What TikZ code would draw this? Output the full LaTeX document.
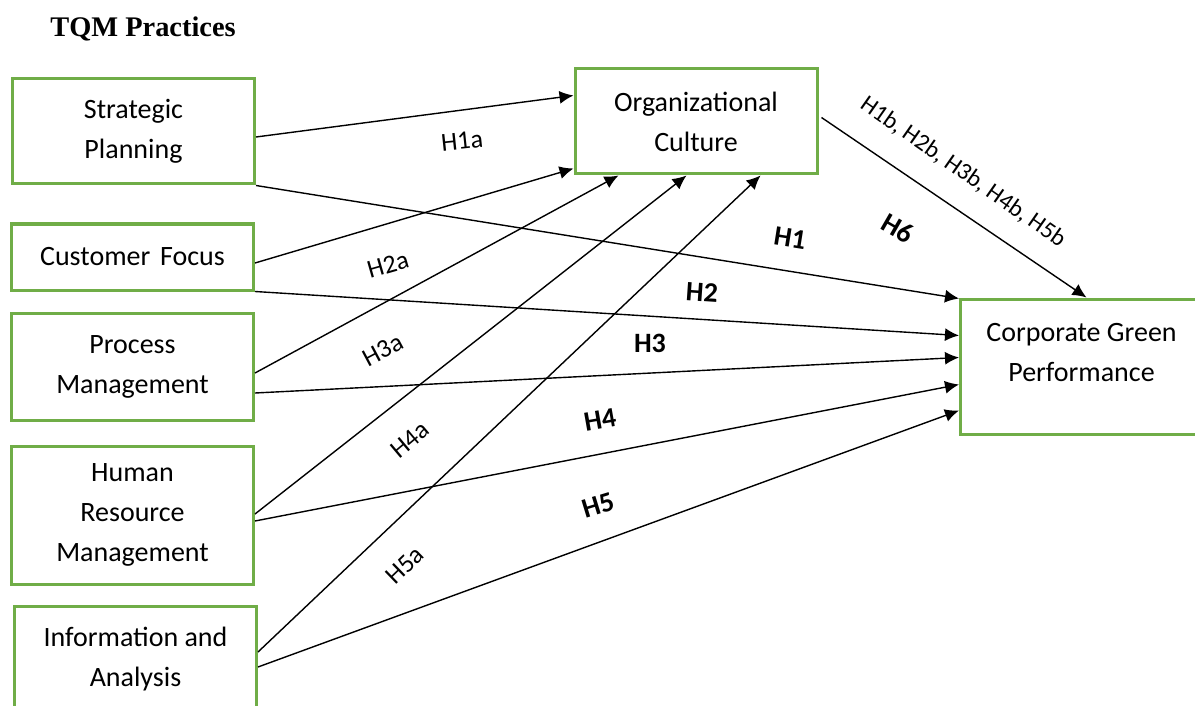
\documentclass[tikz,border=0pt]{standalone}
\usepackage{fontspec}
\setmainfont{Carlito}
\newfontfamily\titlefont{Liberation Serif}
\usetikzlibrary{arrows.meta,calc}
\definecolor{boxgreen}{RGB}{112,173,71}

\tikzset{
box/.style={draw=boxgreen, line width=1.5pt, align=center, inner sep=0pt,
  minimum width=121pt, font=\fontsize{14pt}{20pt}\selectfont},
link/.style={-{Latex[length=7pt,width=6.5pt]}, line width=0.7pt},
hyp/.style={font=\fontsize{13pt}{14pt}\selectfont, inner sep=1pt},
hypbold/.style={font=\fontsize{14pt}{16pt}\selectfont\bfseries, inner sep=1pt}
}

\begin{document}
\begin{tikzpicture}[x=0.5pt, y=-0.5pt]

\useasboundingbox (0,0) rectangle (1195,706);

\node[font={\titlefont\bfseries\fontsize{14.2pt}{16pt}\selectfont}] (title) at (143,29) {TQM Practices};

\node[box, minimum height=52.5pt] (sp) at (133.5,131.5) {Strategic\\Planning};
\node[box, minimum height=33pt] (cf) at (132.5,257) {Customer\hspace{0.35em}Focus};
\node[box, minimum height=53.5pt] (pm) at (132.5,366.5) {Process\\Management};
\node[box, minimum height=69pt] (hrm) at (132.5,515) {Human\\Resource\\Management};
\node[box, minimum height=53pt] (ia) at (135.5,659) {Information and\\Analysis};

\node[box, minimum height=52.5pt] (oc) at (696,121.5) {Organizational\\Culture};
\node[box, minimum height=67.5pt] (cgp) at (1081.5,366.5) {Corporate Green\\Performance\\[-6pt]\mbox{}};

\draw[link] ($(sp.east)+(0,5.5)$) -- ($(oc.north west)+(0,28)$);
\draw[link] (sp.south east) -- ($(cgp.north west)+(0,1)$);
\draw[link] ($(cf.east)+(0,6)$) -- ($(oc.north west)+(0,101)$);
\draw[link] (cf.south east) -- ($(cgp.north west)+(0,38)$);
\draw[link] ($(pm.east)+(0,6.5)$) -- ($(oc.south west)+(45,0)$);
\draw[link] ($(pm.east)+(0,26.5)$) -- ($(cgp.north west)+(0,60)$);
\draw[link] ($(hrm.east)+(0,-1)$) -- ($(oc.south west)+(113,0)$);
\draw[link] ($(hrm.east)+(0,6)$) -- ($(cgp.north west)+(0,87)$);
\draw[link] ($(ia.east)+(0,-7)$) -- ($(oc.south west)+(187,0)$);
\draw[link] ($(ia.east)+(0,8)$) -- ($(cgp.north west)+(0,113)$);
\draw[link] ($(oc.east)+(3,-4)$) -- ($(cgp.north)+(5,0)$);

\foreach \name/\x/\y/\ang/\txt in {h1a/462/141/6/H1a, h2a/388/265/16/H2a, h3a/383/350/28/H3a,
  h4a/410/440/40/H4a, h5a/405/565/44/H5a} {
\node[hyp, rotate=\ang] (\name) at (\x,\y) {\txt};
}

\foreach \name/\x/\y/\ang/\txt in {h1/790/238/-9/H1, h2/702/292/-4/H2, h3/650/343/0/H3,
  h4/600/420/10/H4, h5/598/505/17/H5, h6/898/228/-30/H6} {
\node[hypbold, rotate=\ang] (\name) at (\x,\y) {\txt};
}

\node[font=\fontsize{12pt}{14pt}\selectfont, inner sep=1pt, rotate=-35] (hb) at (963,172) {H1b, H2b, H3b, H4b, H5b};

\end{tikzpicture}
\end{document}
